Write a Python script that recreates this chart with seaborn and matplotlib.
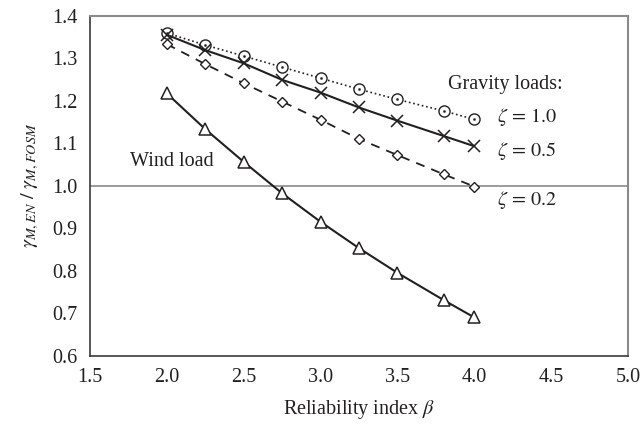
import numpy as np
import pandas as pd
import matplotlib
matplotlib.use("Agg")
import matplotlib.pyplot as plt
import seaborn as sns

# Data
beta = [2.0, 2.25, 2.5, 2.75, 3.0, 3.25, 3.5, 3.8, 4.0]
zeta_10 = [1.359, 1.331, 1.305, 1.279, 1.253, 1.227, 1.203, 1.176, 1.156]
zeta_05 = [1.355, 1.319, 1.288, 1.249, 1.219, 1.184, 1.153, 1.117, 1.093]
zeta_02 = [1.333, 1.286, 1.241, 1.198, 1.155, 1.110, 1.072, 1.027, 0.998]
wind = [1.217, 1.133, 1.056, 0.982, 0.915, 0.853, 0.795, 0.731, 0.690]

x_ticks = [1.5, 2.0, 2.5, 3.0, 3.5, 4.0, 4.5, 5.0]
y_ticks = [0.6, 0.7, 0.8, 0.9, 1.0, 1.1, 1.2, 1.3, 1.4]

sns.set_style("white")
plt.rcParams["font.family"] = ["Liberation Serif", "DejaVu Serif"]
plt.rcParams["mathtext.fontset"] = "stix"

ink = "#231f20"
grey = "#8a8a8a"
fs = 14.5

fig, ax = plt.subplots(figsize=(6.41, 4.29), dpi=100)
fig.subplots_adjust(left=0.1404, right=0.9797, top=0.9634, bottom=0.1709)

ax.axhline(1.0, color=grey, lw=1.2, zorder=1)

sns.lineplot(x=beta, y=zeta_10, ax=ax, color=ink, linestyle=":", lw=1.2,
             marker="o", markersize=8, markerfacecolor="white",
             markeredgecolor=ink, markeredgewidth=1.0)
sns.scatterplot(x=beta, y=zeta_10, ax=ax, color=ink, s=3, marker="o",
                edgecolor=ink, zorder=5)
sns.lineplot(x=beta, y=zeta_05, ax=ax, color=ink, linestyle="-", lw=1.5,
             marker="x", markersize=8, markeredgecolor=ink, markeredgewidth=1.1)
sns.lineplot(x=beta, y=zeta_02, ax=ax, color=ink, linestyle=(0, (5, 4)), lw=1.3,
             marker="D", markersize=5.5, markerfacecolor="white",
             markeredgecolor=ink, markeredgewidth=1.0)
sns.lineplot(x=beta, y=wind, ax=ax, color=ink, linestyle="-", lw=1.5,
             marker="^", markersize=8.5, markerfacecolor="white",
             markeredgecolor=ink, markeredgewidth=1.1)

ax.set_xlim(1.5, 5.0)
ax.set_ylim(0.6, 1.4)
ax.set_xticks(x_ticks)
ax.set_yticks(y_ticks)
ax.set_xticklabels([f"{v:.1f}" for v in x_ticks])
ax.set_yticklabels([f"{v:.1f}" for v in y_ticks])
ax.tick_params(axis="both", direction="out", length=5, width=1.0, color=grey,
               labelsize=fs, labelcolor=ink, pad=4)

for side in ["left", "bottom"]:
    ax.spines[side].set_color("#3a3a3a")
    ax.spines[side].set_linewidth(1.2)
for side in ["top", "right"]:
    ax.spines[side].set_color(grey)
    ax.spines[side].set_linewidth(1.5)

ax.set_xlabel(r"Reliability index $\beta$", fontsize=fs, color=ink, labelpad=8)
ax.set_ylabel(r"$\gamma_{M,EN}\ /\ \gamma_{M,FOSM}$", fontsize=fs, color=ink,
              labelpad=8)

ax.text(3.83, 1.237, "Gravity loads:", fontsize=fs, color=ink, ha="left", va="center")
ax.text(4.15, 1.162, r"$\zeta\,=\,1.0$", fontsize=fs, color=ink, ha="left", va="center")
ax.text(4.15, 1.082, r"$\zeta\,=\,0.5$", fontsize=fs, color=ink, ha="left", va="center")
ax.text(4.15, 0.966, r"$\zeta\,=\,0.2$", fontsize=fs, color=ink, ha="left", va="center")
ax.text(1.76, 1.058, "Wind load", fontsize=fs, color=ink, ha="left", va="center")

fig.savefig("out.png", dpi=100)
